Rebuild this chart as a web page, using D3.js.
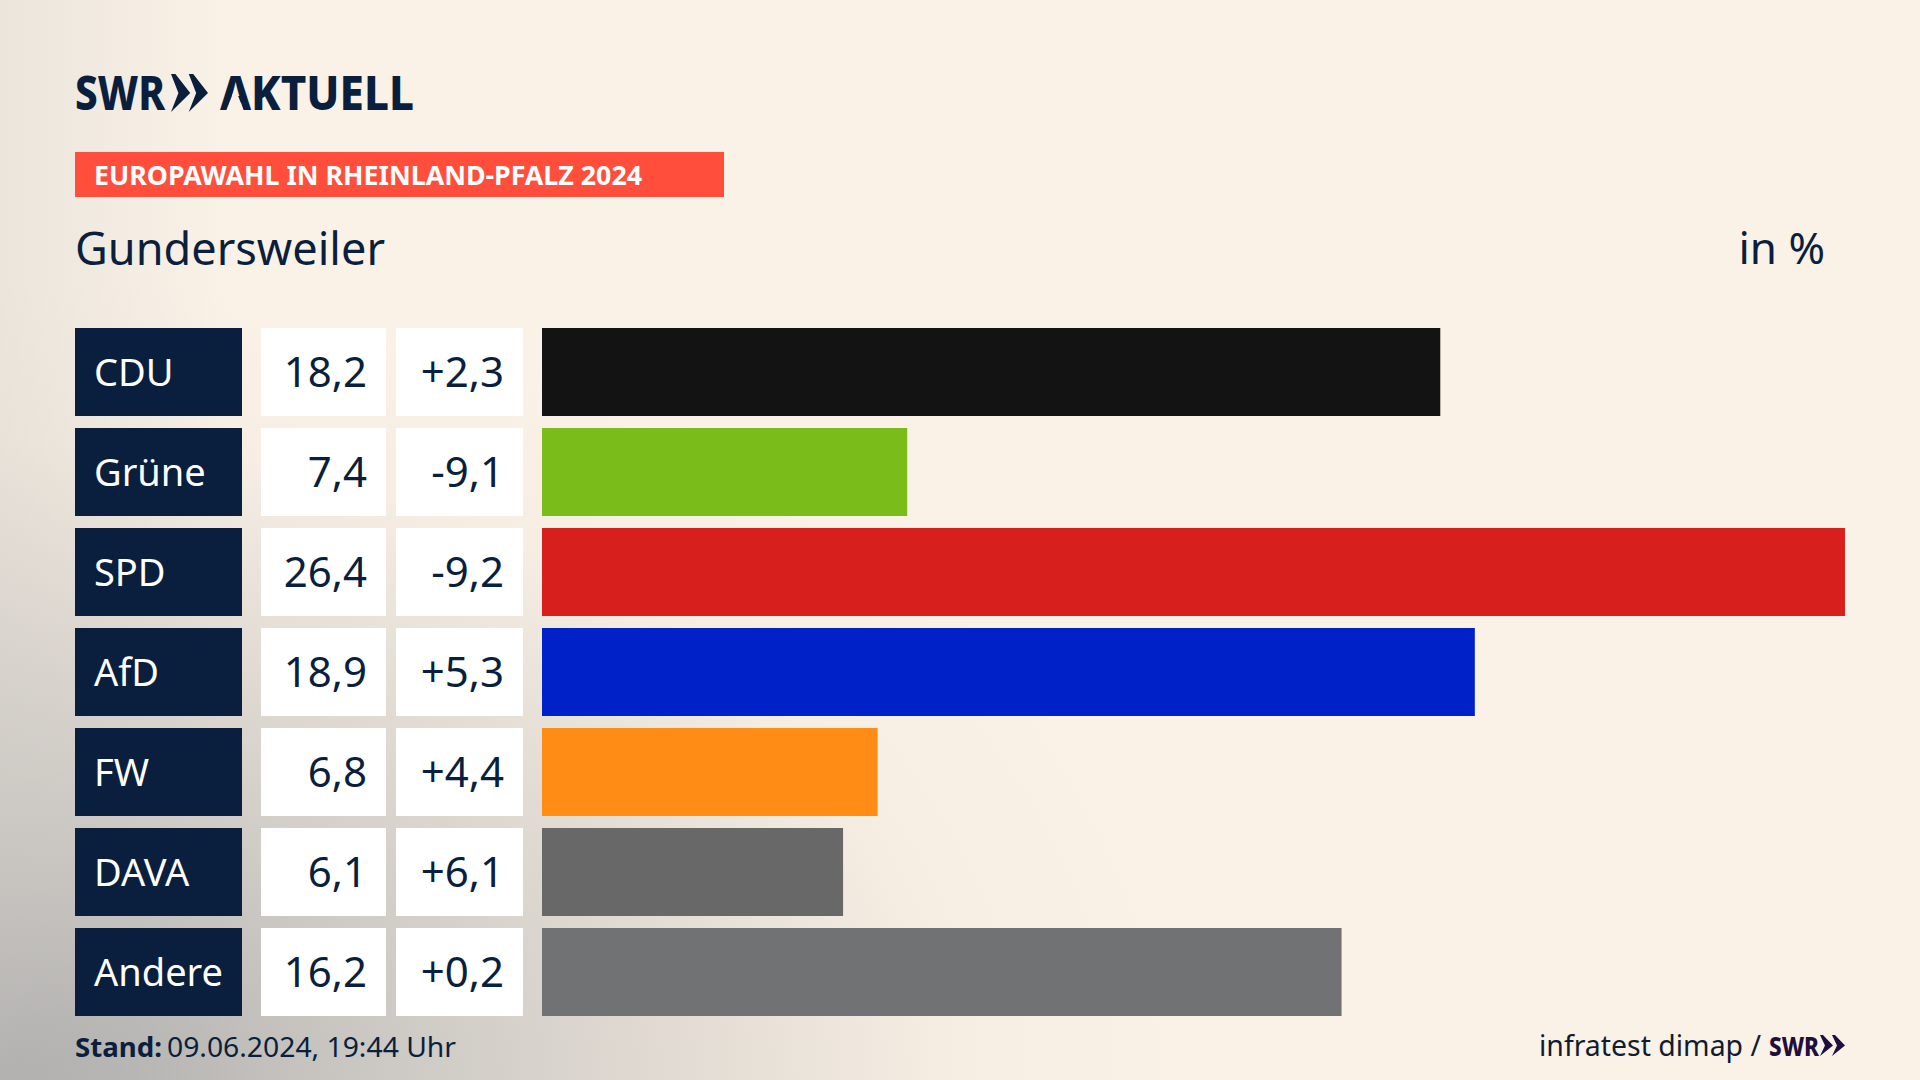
<!DOCTYPE html>
<html lang="de"><head><meta charset="utf-8">
<script src="https://cdn.jsdelivr.net/npm/d3@7"></script>
<style>html,body{margin:0;padding:0;background:#faf2e7;overflow:hidden}svg{display:block}text{font-family:"Noto Sans",sans-serif}</style>
</head><body>
<svg id="c" width="1920" height="1080"></svg>
<script>
const parties=["CDU","Grüne","SPD","AfD","FW","DAVA","Andere"];
const shares=[18.2,7.4,26.4,18.9,6.8,6.1,16.2];
const changes=["+2,3","-9,1","-9,2","+5,3","+4,4","+6,1","+0,2"];
const colors=["#131313","#7abd1a","#d7201e","#0021c8","#ff8c14","#686868","#717274"];
const fmt=d3.format(".1f");
const navy="#0a1f3e", bg="#faf2e7";
const svg=d3.select("#c");
const defs=svg.append("defs");
const g1=defs.append("radialGradient").attr("id","bg1").attr("gradientUnits","userSpaceOnUse")
 .attr("cx",0).attr("cy",0).attr("r",1).attr("gradientTransform","translate(0 1080) scale(1200 800)");
[[0,"#a8a8a7"],[.25,"#c6c3bf"],[.55,"#e0dad2"],[.8,"#f6eee3"],[1,"#faf2e7"]].forEach(s=>g1.append("stop").attr("offset",s[0]).attr("stop-color",s[1]));
const g2=defs.append("linearGradient").attr("id","bg2").attr("x1",0).attr("x2",1).attr("y1",0).attr("y2",0);
g2.append("stop").attr("offset",0).attr("stop-color","#c9c6c2").attr("stop-opacity",.3);
g2.append("stop").attr("offset",.12).attr("stop-color","#c9c6c2").attr("stop-opacity",0);
svg.append("rect").attr("width",1920).attr("height",1080).attr("fill",bg);
svg.append("rect").attr("width",1920).attr("height",1080).attr("fill","url(#bg1)");
svg.append("rect").attr("width",1920).attr("height",1080).attr("fill","url(#bg2)");

const x=d3.scaleLinear().domain([0,26.4]).range([542,1845]);
const y=d3.scaleBand().domain(parties).range([328,1016]).paddingInner(.12).paddingOuter(0).align(0);
const rows=svg.append("g").selectAll("g").data(parties).join("g");
const h=y.bandwidth();
rows.append("rect").attr("x",75).attr("width",167).attr("y",d=>y(d)).attr("height",h).attr("fill",navy);
rows.append("rect").attr("x",261).attr("width",125).attr("y",d=>y(d)).attr("height",h).attr("fill","#fff");
rows.append("rect").attr("x",396).attr("width",127).attr("y",d=>y(d)).attr("height",h).attr("fill","#fff");
rows.append("rect").attr("x",x(0)).attr("y",d=>y(d)).attr("height",h).attr("width",(d,i)=>x(shares[i])-x(0)).attr("fill",(d,i)=>colors[i]);
rows.append("text").attr("x",94).attr("y",d=>y(d)+58).attr("font-size",38).attr("fill","#fff").text(d=>d);
rows.append("text").attr("x",367).attr("y",d=>y(d)+59).attr("font-size",42).attr("text-anchor","end").attr("fill",navy).text((d,i)=>fmt(shares[i]).replace(".",","));
rows.append("text").attr("x",504).attr("y",d=>y(d)+59).attr("font-size",42).attr("text-anchor","end").attr("fill",navy).text((d,i)=>changes[i]);

// header
svg.append("text").attr("x",75).attr("y",110).attr("font-size",48).attr("font-weight",800).attr("fill",navy).attr("textLength",90).attr("lengthAdjust","spacingAndGlyphs").text("SWR");
svg.append("text").attr("x",220).attr("y",110).attr("font-size",48).attr("font-weight",800).attr("fill",navy).attr("textLength",194).attr("lengthAdjust","spacingAndGlyphs").text("AKTUELL");
svg.append("path").attr("d","M235 88L244 111L226 111Z").attr("fill",bg);
svg.append("rect").attr("x",75).attr("y",152).attr("width",649).attr("height",45).attr("fill","#ff4f3c");
svg.append("text").attr("x",94).attr("y",185).attr("font-size",27).attr("font-weight",700).attr("fill","#fff").attr("textLength",548).attr("lengthAdjust","spacingAndGlyphs").text("EUROPAWAHL IN RHEINLAND-PFALZ 2024");
svg.append("text").attr("x",75).attr("y",265).attr("font-size",46).attr("fill",navy).attr("textLength",310).attr("lengthAdjust","spacingAndGlyphs").text("Gundersweiler");
svg.append("text").attr("x",1825).attr("y",264).attr("font-size",44).attr("text-anchor","end").attr("fill",navy).text("in %");
// chevrons
function chev(x0,y0,w,hh,g){const a=svg.append("g").attr("fill",g);
 [0,1].forEach(k=>{const s=x0+k*w*.48;a.append("path").attr("d",`M${s} ${y0}L${s+w*.12} ${y0}L${s+w*.52} ${y0+hh/2}L${s} ${y0+hh}L${s+w*.2} ${y0+hh/2}Z`)});}
chev(171,74,37,38,navy);
// footer
svg.append("text").attr("x",75).attr("y",1057).attr("font-size",27).attr("font-weight",700).attr("fill",navy).attr("textLength",87).attr("lengthAdjust","spacingAndGlyphs").text("Stand:");
svg.append("text").attr("x",167).attr("y",1057).attr("font-size",27).attr("fill",navy).attr("textLength",289).attr("lengthAdjust","spacingAndGlyphs").text("09.06.2024, 19:44 Uhr");
svg.append("text").attr("x",1539).attr("y",1056).attr("font-size",29).attr("fill","#0f1c33").attr("textLength",222).attr("lengthAdjust","spacingAndGlyphs").text("infratest dimap /");
svg.append("text").attr("x",1769).attr("y",1056).attr("font-size",27).attr("font-weight",800).attr("fill","#1e0f3c").attr("textLength",50).attr("lengthAdjust","spacingAndGlyphs").text("SWR");
chev(1820,1035,25,21,"#1e0f3c");
</script></body></html>
